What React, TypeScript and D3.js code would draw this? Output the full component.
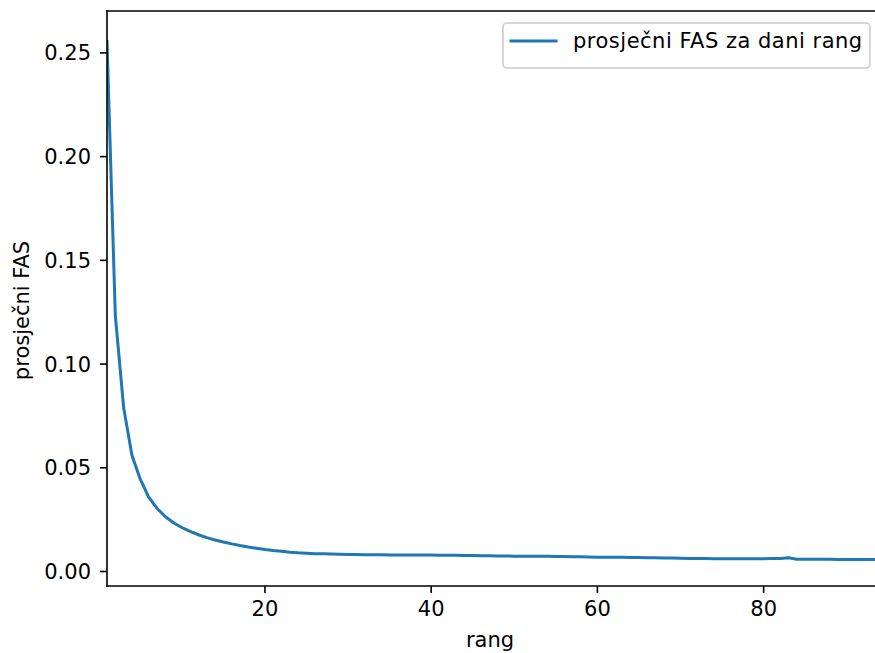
import React from "react";
import * as d3 from "d3";

const ranks: number[] = Array.from({ length: 94 }, (_, i) => i + 1);
const avgFas: number[] = [
  0.2555, 0.1235, 0.079, 0.056, 0.0445, 0.036, 0.0305, 0.0265, 0.0235, 0.0212,
  0.0193, 0.0177, 0.0163, 0.0152, 0.0142, 0.0133, 0.0125, 0.0118, 0.0112, 0.0106,
  0.0101, 0.0097, 0.0093, 0.009, 0.0088, 0.0086, 0.0085, 0.0084, 0.0083, 0.0082,
  0.0082, 0.0081, 0.0081, 0.0081, 0.008, 0.008, 0.008, 0.0079, 0.0079, 0.0079,
  0.0078, 0.0078, 0.0078, 0.0077, 0.0077, 0.0076, 0.0076, 0.0075, 0.0075, 0.0074,
  0.0074, 0.0074, 0.0073, 0.0073, 0.0072, 0.0072, 0.0071, 0.0071, 0.007, 0.0069,
  0.0069, 0.0068, 0.0068, 0.0067, 0.0067, 0.0066, 0.0066, 0.0065, 0.0065, 0.0064,
  0.0063, 0.0063, 0.0062, 0.0061, 0.0061, 0.0061, 0.0061, 0.0061, 0.0061, 0.0061,
  0.0062, 0.0063, 0.0066, 0.0059, 0.0059, 0.0059, 0.0059, 0.0059, 0.0058, 0.0058,
  0.0058, 0.0058, 0.0058, 0.0058,
];
const yTicks: number[] = [0, 0.05, 0.1, 0.15, 0.2, 0.25];
const xTicks: number[] = [20, 40, 60, 80];
const legendLabel = "prosječni FAS za dani rang";
const xLabel = "rang";
const yLabel = "prosječni FAS";

const W = 875;
const H = 653;
const left = 107;
const right = 880;
const top = 11;
const bottom = 586;
const font = "DejaVu Sans, sans-serif";
const fs = 21;

export default function App() {
  const x = d3.scaleLinear().domain([1, 94]).range([left, right]);
  const y = d3.scaleLinear().domain([-0.007, 0.2702]).range([bottom, top]);
  const line = d3
    .line<number>()
    .x((_, i) => x(ranks[i]))
    .y((d) => y(d));
  const path = line(avgFas) || "";

  return (
    <svg
      width={W}
      height={H}
      style={{ position: "absolute", left: 0, top: 0, background: "#fff" }}
      fontFamily={font}
    >
      <rect x={0} y={0} width={W} height={H} fill="#fff" />
      <defs>
        <clipPath id="plotclip">
          <rect x={left} y={top} width={right - left} height={bottom - top} />
        </clipPath>
      </defs>
      <path
        d={path}
        fill="none"
        stroke="#1f77b4"
        strokeWidth={3}
        strokeLinejoin="round"
        strokeLinecap="square"
        clipPath="url(#plotclip)"
      />
      {/* spines */}
      <line x1={left} x2={left} y1={top} y2={bottom} stroke="#000" strokeWidth={1.6} strokeLinecap="square" />
      <line x1={left} x2={right} y1={bottom} y2={bottom} stroke="#000" strokeWidth={1.6} strokeLinecap="square" />
      <line x1={left} x2={right} y1={top} y2={top} stroke="#000" strokeWidth={1.6} strokeLinecap="square" />
      <line x1={right} x2={right} y1={top} y2={bottom} stroke="#000" strokeWidth={1.6} />
      {/* y ticks */}
      {yTicks.map((t) => (
        <g key={"y" + t}>
          <line x1={left - 7} x2={left} y1={y(t)} y2={y(t)} stroke="#000" strokeWidth={1.6} />
          <text
            x={left - 16}
            y={y(t)}
            dy="0.36em"
            textAnchor="end"
            fontSize={fs}
            fill="#000"
          >
            {t.toFixed(2)}
          </text>
        </g>
      ))}
      {/* x ticks */}
      {xTicks.map((t) => (
        <g key={"x" + t}>
          <line x1={x(t)} x2={x(t)} y1={bottom} y2={bottom + 7} stroke="#000" strokeWidth={1.6} />
          <text x={x(t)} y={bottom + 30} textAnchor="middle" fontSize={fs} fill="#000">
            {t}
          </text>
        </g>
      ))}
      {/* axis labels */}
      <text x={490} y={647} textAnchor="middle" fontSize={fs} fill="#000">
        {xLabel}
      </text>
      <text
        transform={`translate(29, ${(top + bottom) / 2 + 12}) rotate(-90)`}
        textAnchor="middle"
        fontSize={fs}
        fill="#000"
      >
        {yLabel}
      </text>
      {/* legend */}
      <g>
        <rect
          x={503}
          y={23}
          width={367}
          height={45}
          rx={4}
          fill="#fff"
          fillOpacity={0.8}
          stroke="#ccc"
          strokeWidth={1.6}
        />
        <line x1={511} x2={556} y1={41} y2={41} stroke="#1f77b4" strokeWidth={3} strokeLinecap="square" />
        <text x={573} y={48} fontSize={fs} fill="#000" letterSpacing={0.5}>
          {legendLabel}
        </text>
      </g>
    </svg>
  );
}
